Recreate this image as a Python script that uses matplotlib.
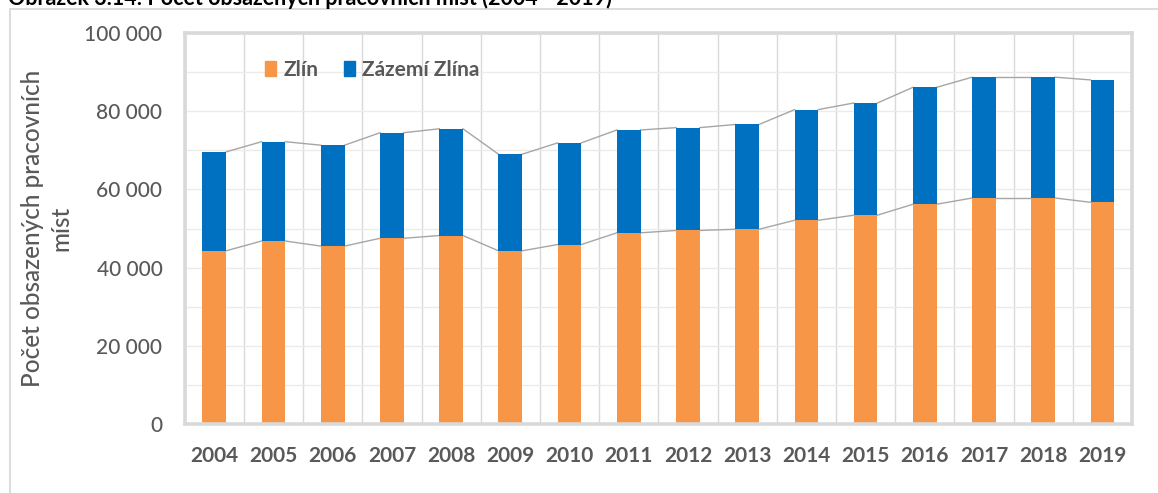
import matplotlib
matplotlib.use("Agg")
import matplotlib.pyplot as plt
from matplotlib.patches import Patch, Rectangle
from matplotlib.ticker import FuncFormatter, MultipleLocator
import numpy as np

years = ["2004", "2005", "2006", "2007", "2008", "2009", "2010", "2011",
         "2012", "2013", "2014", "2015", "2016", "2017", "2018", "2019"]
zlin = [44300, 46800, 45500, 47500, 48200, 44300, 45900, 48900,
        49500, 49800, 52100, 53400, 56200, 57800, 57800, 56700]
total = [69600, 72200, 71300, 74500, 75500, 69000, 71900, 75200,
         75800, 76600, 80400, 82100, 86100, 88700, 88700, 88000]
zazemi = [t - z for t, z in zip(total, zlin)]
series_names = ["Zlín", "Zázemí Zlína"]
title = "Obrázek 3.14: Počet obsazených pracovních míst (2004 - 2019)"
ylabel = "Počet obsazených pracovních\nmíst"

ORANGE = "#F79646"
BLUE = "#0070C0"
TXT = "#595959"
FONT = ["Lato", "DejaVu Sans"]
plt.rcParams['font.family'] = FONT

W, H = 1158, 493
fig = plt.figure(figsize=(W / 100, H / 100), dpi=100)

# outer chart frame
fig.patches.append(Rectangle((10 / W, -0.1), 1.2, 1.1 - 9 / H, transform=fig.transFigure,
                             fill=False, edgecolor="#d9d9d9", linewidth=1.3, zorder=0))

left, right, top, bottom = 184.7, 1132, 33, 424
ax = fig.add_axes([left / W, 1 - bottom / H, (right - left) / W, (bottom - top) / H])

x = np.arange(len(years))
bw = 0.4
ax.bar(x, zlin, bw, color=ORANGE, zorder=3, label=series_names[0])
ax.bar(x, zazemi, bw, bottom=zlin, color=BLUE, zorder=3, label=series_names[1])

# series lines connecting the bars
for vals in (zlin, total):
    for i in range(len(x) - 1):
        ax.plot([x[i] + bw / 2, x[i + 1] - bw / 2], [vals[i], vals[i + 1]],
                color="#a6a6a6", linewidth=1.0, zorder=2)

ax.set_xlim(-0.5, len(years) - 0.5)
ax.set_ylim(0, 100000)
ax.yaxis.set_major_locator(MultipleLocator(20000))
ax.yaxis.set_minor_locator(MultipleLocator(10000))
ax.yaxis.set_major_formatter(FuncFormatter(lambda v, p: f"{int(v):,}".replace(",", " ")))
ax.set_xticks(x)
ax.set_xticklabels(years)
ax.set_xticks(np.arange(-0.5, len(years), 1.0), minor=True)

ax.grid(axis="y", which="both", color="#ecebe6", linewidth=1.0, zorder=0)
ax.grid(axis="x", which="minor", color="#d9d9d9", linewidth=1.0, zorder=0)
ax.grid(axis="x", which="major", visible=False)
ax.tick_params(axis="both", which="both", length=0)
ax.tick_params(axis="y", labelsize=15, labelcolor=TXT, pad=16)
ax.tick_params(axis="x", labelsize=15, labelcolor=TXT, pad=15.5)
for lab in ax.get_xticklabels():
    lab.set_fontweight("bold")
for lab in ax.get_yticklabels():
    lab.set_fontweight("medium")
for sp in ax.spines.values():
    sp.set_color("#d9d9d9")
    sp.set_linewidth(2.6)
    sp.set_zorder(4)

leg = ax.legend(handles=[Patch(color=ORANGE, label=series_names[0]),
                         Patch(color=BLUE, label=series_names[1])],
                loc="center left", bbox_to_anchor=((265 - left) / (right - left), (bottom - 70) / (bottom - top)),
                ncol=2, frameon=False, handlelength=0.55, handleheight=0.7, handletextpad=0.35,
                columnspacing=1.2, borderaxespad=0, borderpad=0,
                prop={"size": 15, "weight": "bold"})
for t in leg.get_texts():
    t.set_color(TXT)

fig.text(47 / W, 1 - 228 / H, ylabel, rotation=90, ha="center", va="center",
         multialignment="center", fontsize=17.5, color=TXT, linespacing=1.3,
         fontweight="medium")

fig.text(8 / W, 1 - 5 / H, title, ha="left", va="baseline", fontsize=15.5,
         fontweight="bold", color="black")

fig.savefig("out.png", dpi=100)
